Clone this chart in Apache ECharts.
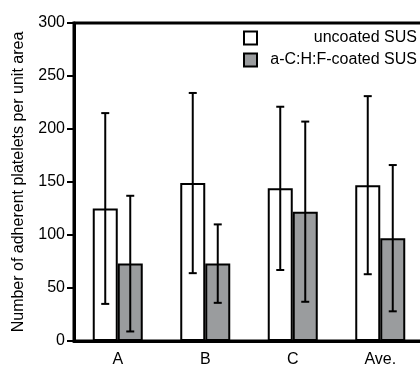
<!DOCTYPE html>
<html>
<head>
<meta charset="utf-8">
<script src="https://cdn.jsdelivr.net/npm/echarts@6/dist/echarts.min.js"></script>
<style>
  html, body { margin: 0; padding: 0; background: #fff; }
  #chart { width: 420px; height: 367px; }
</style>
</head>
<body>
<div id="chart"></div>
<script>
var categories = ['A', 'B', 'C', 'Ave.']
var uncoated = [125, 149, 144, 147]
var uncoatedErr = [90, 85, 77, 84]
var coated = [73, 73, 122, 97]
var coatedErr = [64, 37, 85, 69]
var yTicks = [0, 50, 100, 150, 200, 250, 300]

var BAR_W = 25

// error bar: [catIndex, mean, err]
function errData(vals, errs) {
  return vals.map(function (v, i) { return [i, v, errs[i]] })
}
function errRender(offset) {
  return function (params, api) {
    var i = api.value(0), m = api.value(1), e = api.value(2)
    var hi = api.coord([i, m + e])
    var lo = api.coord([i, m - e])
    var x = hi[0] + offset
    var cap = 4
    var st = { stroke: '#000', lineWidth: 2 }
    return {
      type: 'group',
      children: [
        { type: 'line', shape: { x1: x, y1: hi[1], x2: x, y2: lo[1] }, style: st },
        { type: 'line', shape: { x1: x - cap, y1: hi[1], x2: x + cap, y2: hi[1] }, style: st },
        { type: 'line', shape: { x1: x - cap, y1: lo[1], x2: x + cap, y2: lo[1] }, style: st }
      ]
    }
  }
}

var chart = echarts.init(document.getElementById('chart'))
chart.setOption({
  animation: false,
  textStyle: { fontFamily: 'Liberation Sans, Arial, sans-serif' },
  grid: {
    left: 74, right: -4, top: 23, bottom: 26,
    containLabel: false,
    outerBoundsMode: 'none',
    show: true, borderColor: '#000', borderWidth: 3
  },
  legend: {
    orient: 'vertical',
    right: 3,
    top: 30,
    padding: 0,
    itemWidth: 13,
    itemHeight: 13,
    itemGap: 6,
    icon: 'rect',
    data: ['uncoated SUS', 'a-C:H:F-coated SUS'],
    formatter: function (n) { return '{t|' + n + '}' },
    textStyle: {
      rich: { t: { width: 155, align: 'right', fontSize: 16, lineHeight: 16, color: '#000', fontFamily: 'Liberation Sans' } }
    }
  },
  xAxis: {
    type: 'category',
    data: categories,
    axisLine: { lineStyle: { color: '#000', width: 3 } },
    axisTick: { show: false },
    axisLabel: { color: '#000', fontSize: 16, margin: 11 }
  },
  yAxis: {
    type: 'value',
    min: yTicks[0],
    max: yTicks[yTicks.length - 1],
    interval: 50,
    name: 'Number of adherent platelets per unit area',
    nameLocation: 'middle',
    nameGap: 47,
    nameTextStyle: { color: '#000', fontSize: 16 },
    axisLine: { show: true, lineStyle: { color: '#000', width: 3 } },
    axisTick: { show: true, length: 7, lineStyle: { color: '#000', width: 2 } },
    axisLabel: { color: '#000', fontSize: 16, margin: 9 },
    splitLine: { show: false }
  },
  series: [
    {
      name: 'uncoated SUS',
      type: 'bar',
      data: uncoated,
      barWidth: BAR_W,
      barGap: '0%',
      itemStyle: { color: '#fff', borderColor: '#000', borderWidth: 2 }
    },
    {
      name: 'a-C:H:F-coated SUS',
      type: 'bar',
      data: coated,
      barWidth: BAR_W,
      barGap: '0%',
      itemStyle: { color: '#9a9c9e', borderColor: '#000', borderWidth: 2 }
    },
    {
      type: 'custom',
      renderItem: errRender(-BAR_W / 2),
      data: errData(uncoated, uncoatedErr),
      encode: { x: 0, y: 1 },
      z: 5
    },
    {
      type: 'custom',
      renderItem: errRender(BAR_W / 2),
      data: errData(coated, coatedErr),
      encode: { x: 0, y: 1 },
      z: 5
    }
  ]
})
</script>
</body>
</html>
